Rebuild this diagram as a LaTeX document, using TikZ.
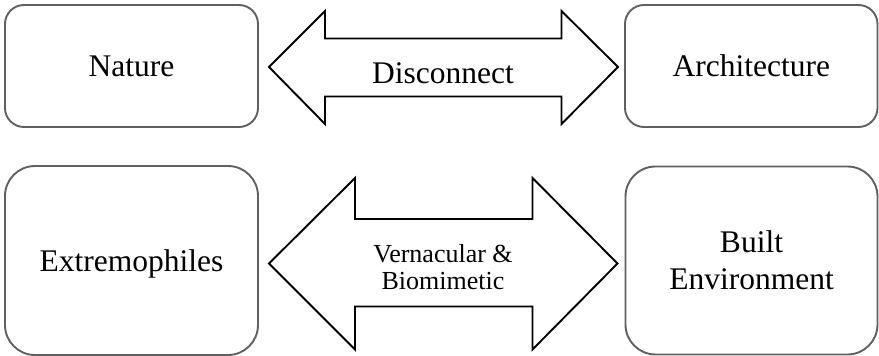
\documentclass[tikz,border=0pt]{standalone}
\usepackage{fontspec}
\setmainfont{Liberation Serif}
\definecolor{boxline}{RGB}{96,96,96}
\tikzset{
  roundbox/.style={draw=boxline, line width=1.9pt, align=center, inner sep=0pt,
    font=\fontsize{31.5}{37}\selectfont, text depth=0pt},
  fatarrow/.style={draw=black, line width=1.9pt, fill=white, line join=miter},
  arrowtext/.style={inner sep=0pt, align=center},
}
\begin{document}
\begin{tikzpicture}[x=1pt, y=-1pt]
  \useasboundingbox (0,0) rectangle (879,356);

  % top row
  \node[roundbox, rounded corners=19pt, minimum width=253pt, minimum height=122pt]
    (nature) at (131.5,66) {Nature};
  \node[roundbox, rounded corners=19pt, minimum width=252.5pt, minimum height=122pt]
    (arch) at (751.25,66) {Architecture};

  % bottom row
  \node[roundbox, rounded corners=30pt, minimum width=253pt, minimum height=189pt]
    (extremo) at (131.5,260.5) {Extremophiles};
  \node[roundbox, rounded corners=30pt, minimum width=252pt, minimum height=188pt]
    (built) at (751.5,260.5) {Built\\Environment};

  % double block arrow: Nature <-> Architecture
  \draw[fatarrow] (269,67) -- (325,11) -- (325,38.5) -- (561.5,38.5) -- (561.5,11)
    -- (618,67) -- (561.5,124) -- (561.5,96.5) -- (325,96.5) -- (325,124) -- cycle;
  \node[arrowtext, anchor=base, font=\fontsize{31.5}{37}\selectfont]
    (disconnect) at (443,83) {Disconnect};

  % double block arrow: Extremophiles <-> Built Environment
  \draw[fatarrow] (269,263.5) -- (355,178) -- (355,219) -- (532.5,219) -- (532.5,178)
    -- (617.5,263.5) -- (532.5,349.5) -- (532.5,306.5) -- (355,306.5) -- (355,349.5) -- cycle;
  \node[arrowtext, anchor=center, font=\fontsize{26}{27}\selectfont]
    (vernacular) at (443,267.6) {Vernacular \&\\Biomimetic};
\end{tikzpicture}
\end{document}
